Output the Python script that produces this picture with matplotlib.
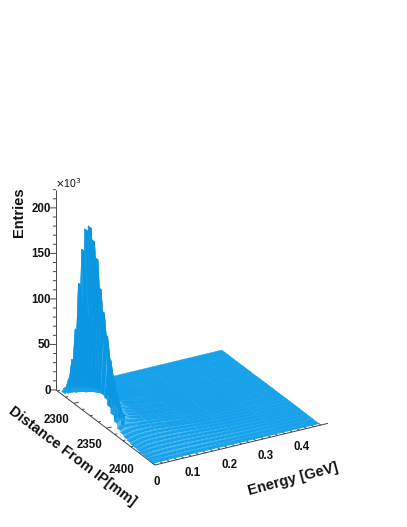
import numpy as np
import matplotlib
matplotlib.use('Agg')
import matplotlib.pyplot as plt
from mpl_toolkits.mplot3d import proj3d

plt.rcParams['font.family'] = ['Liberation Sans', 'DejaVu Sans']

# bin centres
energy = [0.0, 0.01, 0.02, 0.03, 0.05, 0.08, 0.12, 0.18, 0.25, 0.35, 0.46]
distance = [2275.5, 2280, 2284, 2289, 2294, 2299, 2304, 2309, 2314, 2319, 2324, 2329, 2334, 2339, 2344, 2349,
            2354, 2359, 2364, 2369, 2374, 2379, 2384, 2389, 2394, 2399, 2404, 2409, 2414, 2419]
# entries in thousands, one row per distance bin
entries = [
    [0, 0, 0, 0, 0, 0, 0, 0, 0, 0, 0],
    [0, 0, 0, 0, 0, 0, 0, 0, 0, 0, 0],
    [3, 7, 4, 2, 1, .5, .2, .1, 0, 0, 0],
    [6, 19, 11, 6, 3, 1.5, .7, .3, .1, 0, 0],
    [12, 43, 25, 12, 6, 3, 1.5, .6, .2, .1, 0],
    [17, 79, 45, 22, 9, 4, 2, 1, .4, .1, 0],
    [20, 132, 75, 36, 14, 6, 3, 1.5, .6, .2, 0],
    [23, 172, 98, 46, 18, 8, 4, 2, .8, .3, .1],
    [26, 197, 112, 52, 21, 9, 5, 2.5, 1, .4, .1],
    [28, 203, 116, 54, 22, 10, 6, 3, 1.2, .5, .1],
    [31, 191, 110, 52, 22, 10, 6, 3, 1.4, .5, .1],
    [33, 174, 100, 48, 21, 10, 6, 3.5, 1.5, .6, .2],
    [35, 144, 84, 42, 19, 10, 7, 4, 1.8, .7, .2],
    [35, 121, 70, 36, 17, 10, 7, 4, 2, .8, .2],
    [34, 98, 58, 30, 15, 10, 7, 4.5, 2.2, .9, .3],
    [32, 74, 46, 25, 14, 10, 7, 4.5, 2.3, 1, .3],
    [26, 57, 36, 21, 13, 10, 7.5, 5, 2.5, 1, .3],
    [20, 30, 24, 17, 12, 10, 7.5, 5, 2.6, 1.1, .3],
    [14, 17, 15, 13, 11, 10, 7.5, 5, 2.7, 1.1, .3],
    [9, 11, 11, 11, 10, 9.5, 7.5, 5, 2.7, 1.2, .4],
    [7, 8, 9, 9.5, 9.5, 9, 7, 5, 2.7, 1.2, .4],
    [5, 6.5, 7.5, 8, 8.5, 8.5, 7, 4.8, 2.7, 1.2, .4],
    [4, 5, 6, 7, 7.5, 7.5, 6.5, 4.5, 2.6, 1.2, .4],
    [3, 4, 5, 6, 6.5, 6.5, 6, 4.2, 2.4, 1.1, .4],
    [2.5, 3, 4, 5, 5.5, 5.5, 5, 3.8, 2.2, 1, .3],
    [2, 2.5, 3.2, 4, 4.5, 4.5, 4.3, 3.2, 1.9, .9, .3],
    [1.5, 2, 2.5, 3, 3.5, 3.6, 3.4, 2.6, 1.6, .7, .2],
    [1, 1.3, 1.7, 2, 2.4, 2.5, 2.4, 1.9, 1.1, .5, .2],
    [.5, .7, .9, 1, 1.2, 1.3, 1.2, 1, .6, .3, .1],
    [.3, .4, .5, .5, .6, .7, .6, .5, .3, .2, .1],
]
energy_ticks = [0, 0.1, 0.2, 0.3, 0.4]
energy_labels = ['0', '0.1', '0.2', '0.3', '0.4']
distance_ticks = [2300, 2350, 2400]
entries_ticks = [0, 50, 100, 150, 200]

E_MAX = 0.48
D_MIN, D_MAX = 2273, 2424
Z_MAX = 220
BIN = 5.0

FIG_W, FIG_H = 407, 527
fig = plt.figure(figsize=(FIG_W / 100, FIG_H / 100), dpi=100)
ax = fig.add_axes([0, 0, 400 / FIG_W, 400 / FIG_H], projection='3d', proj_type='ortho')
ax.set_axis_off()
ax.patch.set_alpha(0)
ax.set_xlim(0, E_MAX)
ax.set_ylim(D_MAX, D_MIN)
ax.set_zlim(0, Z_MAX)
ax.set_box_aspect((199, 202, 222))
ax.view_init(elev=25.3, azim=-119.4)

# terraced rows like a lego plot: every distance bin is a flat strip
Z_rows = np.array(entries)
D_c = np.array(distance, dtype=float)
D_edges = np.column_stack([D_c - BIN / 2, D_c + BIN / 2]).ravel()
Z = np.repeat(Z_rows, 2, axis=0)
X, Y = np.meshgrid(energy, D_edges)

BASE = np.array(matplotlib.colors.to_rgb('#18a2ea'))
LIGHT = np.array(matplotlib.colors.to_rgb('#4cbcf5'))
DARK = np.array(matplotlib.colors.to_rgb('#0b96e2'))
colors = np.zeros((Z.shape[0] - 1, Z.shape[1] - 1, 4))
colors[..., 3] = 1
for i in range(Z.shape[0] - 1):
    for j in range(Z.shape[1] - 1):
        if i % 2 == 0:
            # strip: a bit darker where steep in energy
            slope = min(abs(Z[i, j + 1] - Z[i, j]) / 30, 1)
            colors[i, j, :3] = BASE * (1 - slope) + DARK * slope
        else:
            # riser between two rows, light lines on the flat part
            drop = Z[i, j] - Z[i + 1, j]
            if drop <= 0:
                colors[i, j, :3] = BASE
            elif drop < 6:
                t = min(drop / 0.6, 1)
                colors[i, j, :3] = BASE * (1 - t) + LIGHT * t
            else:
                colors[i, j, :3] = DARK
# the two rear rows are empty at low energy, nothing is drawn there
colors[:4, :2, 3] = 0
surf = ax.plot_surface(X, Y, Z, rstride=1, cstride=1, facecolors=colors, shade=False,
                       linewidth=0.25, antialiased=True)
surf.set_edgecolors(colors.reshape(-1, 4))

AXC = '#444444'
LW = 0.7


def seg(p, q):
    ax.plot([p[0], q[0]], [p[1], q[1]], [p[2], q[2]], color=AXC, lw=LW, solid_capstyle='butt')


# axis lines
seg((0, D_MIN, 0), (0, D_MIN, Z_MAX))
seg((0, D_MIN, 0), (0, D_MAX, 0))
seg((0, D_MAX, 0), (E_MAX, D_MAX, 0))

# z ticks, horizontal on screen
for v in np.arange(0, Z_MAX + 1, 10):
    L = 0.015 if v % 50 == 0 else 0.0075
    seg((0, D_MIN, v), (-L * 0.87, D_MIN - L * 0.49 * (D_MAX - D_MIN) / E_MAX, v))

# distance ticks
for v in np.arange(2275, D_MAX + 1, 12.5):
    L = 0.014 if v % 50 == 0 else 0.007
    seg((0, v, 0), (L, v, 0))

# energy ticks
for v in np.arange(0, E_MAX, 0.02):
    L = 8 if round(v * 100) % 10 == 0 else 4
    seg((v, D_MAX, 0), (v, D_MAX - L, 0))


def to_px(x, y, z):
    X2, Y2, _ = proj3d.proj_transform(x, y, z, ax.get_proj())
    return ax.transData.transform((X2, Y2))


# move the axes so the box corners land where the reference has them
fig.canvas.draw()
p0 = to_px(0, D_MAX, 0)
p1 = to_px(E_MAX, D_MAX, 0)
scale = (328 - 155) / (p1[0] - p0[0])
side = 400 * scale
ax.set_position([0, 0, side / FIG_W, side / FIG_H])
fig.canvas.draw()
p0 = to_px(0, D_MAX, 0)
dx = 155 - p0[0]
dy = (FIG_H - 465) - p0[1]
ax.set_position([dx / FIG_W, dy / FIG_H, side / FIG_W, side / FIG_H])
fig.canvas.draw()


def label(px, s, ox, oy, ha='center'):
    fig.text((px[0] + ox) / FIG_W, (px[1] + oy) / FIG_H, s, ha=ha, va='center', fontsize=8.3,
             fontweight='bold', color='#111111')


for v in entries_ticks:
    label(to_px(0, D_MIN, v), str(v), -5, -1, ha='right')
for v in distance_ticks:
    label(to_px(0, v, 0), str(v), -17.5, -17)
for v, s in zip(energy_ticks, energy_labels):
    label(to_px(v, D_MAX, 0), s, 2, -17)


def title(xp, yp, s, rot, size):
    fig.text(xp / FIG_W, 1 - yp / FIG_H, s, rotation=rot, rotation_mode='anchor', ha='center', va='center',
             fontsize=size, fontweight='bold', color='#111111')


title(19, 212, 'Entries', 90, 10.5)
title(72, 456, 'Distance From IP[mm]', -37, 10.5)
title(293, 479, 'Energy [GeV]', 15, 10.5)
fig.text(55 / FIG_W, 1 - 183 / FIG_H, r'$\times$10$^{3}$', fontsize=7.5, ha='left', va='center', color='#111111')

fig.savefig('out.png', dpi=100)
